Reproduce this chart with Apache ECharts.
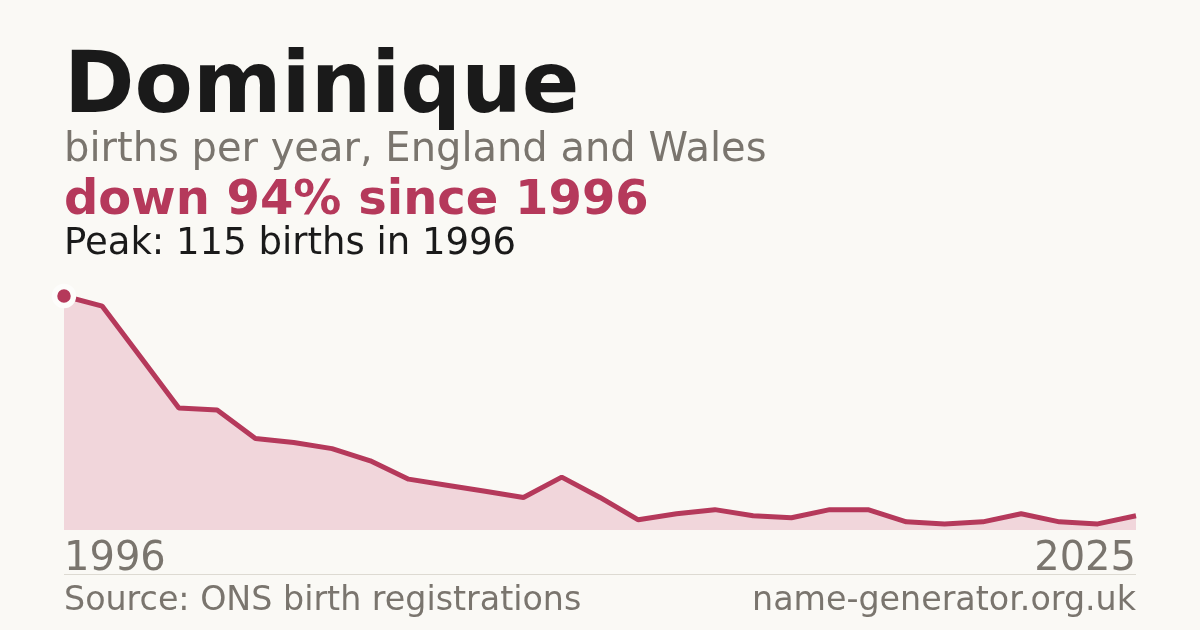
<!DOCTYPE html>
<html>
<head>
<meta charset="utf-8">
<title>Dominique births</title>
<script src="https://cdn.jsdelivr.net/npm/echarts@6/dist/echarts.min.js"></script>
<style>
    html, body { margin: 0; padding: 0; background: #faf9f5; }
    #chart { width: 1200px; height: 630px; }
</style>
</head>
<body>
<div id="chart"></div>
<script>
// 数据
const years = [1996, 1997, 1998, 1999, 2000, 2001, 2002, 2003, 2004, 2005,
    2006, 2007, 2008, 2009, 2010, 2011, 2012, 2013, 2014, 2015,
    2016, 2017, 2018, 2019, 2020, 2021, 2022, 2023, 2024];
const births = [115, 110, 85, 60, 59, 45, 43, 40, 34, 25,
    22, 19, 16, 26, 16, 5, 8, 10, 7, 6,
    10, 10, 4, 3, 4, 8, 4, 3, 7];
const tickLabels = ['1996', '2025'];

const crimson = '#b5395b';
const grey = '#7a756e';
const ink = '#1a1a1a';

function initChart() {
    const chart = echarts.init(document.getElementById('chart'));
    const peakIndex = births.indexOf(Math.max(...births));
    const lastIndex = births.length - 1;

    // 峰值点单独加一个圆点
    const seriesData = births.map((v, i) => {
        if (i !== peakIndex) return v;
        return {
            value: v,
            symbol: 'circle',
            symbolSize: 19,
            itemStyle: { color: crimson, borderColor: '#fdfdfb', borderWidth: 5.5 }
        };
    });

    const option = {
        backgroundColor: '#faf9f5',
        animation: false,
        grid: {
            top: 296,
            bottom: 100,
            left: 64,
            right: 64
        },
        xAxis: {
            type: 'category',
            data: years.map(String),
            boundaryGap: false,
            axisLine: { show: false },
            axisTick: { show: false },
            splitLine: { show: false },
            axisLabel: {
                interval: (i) => i === 0 || i === lastIndex,
                formatter: (val, i) => (i === 0 ? tickLabels[0] : tickLabels[1]),
                alignMinLabel: 'left',
                alignMaxLabel: 'right',
                color: grey,
                fontFamily: 'DejaVu Sans',
                fontSize: 40,
                margin: 10
            }
        },
        yAxis: {
            type: 'value',
            min: 0,
            max: 'dataMax',
            show: false
        },
        series: [{
            type: 'line',
            data: seriesData,
            symbol: 'none',
            lineStyle: { color: crimson, width: 5 },
            areaStyle: { color: '#f1d6db', opacity: 1 },
            z: 3
        }],
        graphic: [
            {
                type: 'text', left: 64, top: 47,
                style: { text: 'Dominique', fill: ink, font: 'bold 85px "DejaVu Sans"' }
            },
            {
                type: 'text', left: 64, top: 131,
                style: { text: 'births per year, England and Wales', fill: grey, font: '40px "DejaVu Sans"' }
            },
            {
                type: 'text', left: 64, top: 178,
                style: { text: 'down 94% since 1996', fill: crimson, font: 'bold 48px "DejaVu Sans"' }
            },
            {
                type: 'text', left: 64, top: 226,
                style: { text: 'Peak: 115 births in 1996', fill: ink, font: '37px "DejaVu Sans"' }
            },
            {
                type: 'line',
                shape: { x1: 64, y1: 574.5, x2: 1136, y2: 574.5 },
                style: { stroke: '#dddad2', lineWidth: 1 }
            },
            {
                type: 'text', left: 64, top: 585,
                style: { text: 'Source: ONS birth registrations', fill: grey, font: '33.3px "DejaVu Sans"' }
            },
            {
                type: 'text', right: 64, top: 585,
                style: { text: 'name-generator.org.uk', fill: grey, font: '33.3px "DejaVu Sans"' }
            }
        ]
    };
    chart.setOption(option);
}

document.addEventListener('DOMContentLoaded', initChart);
</script>
</body>
</html>
